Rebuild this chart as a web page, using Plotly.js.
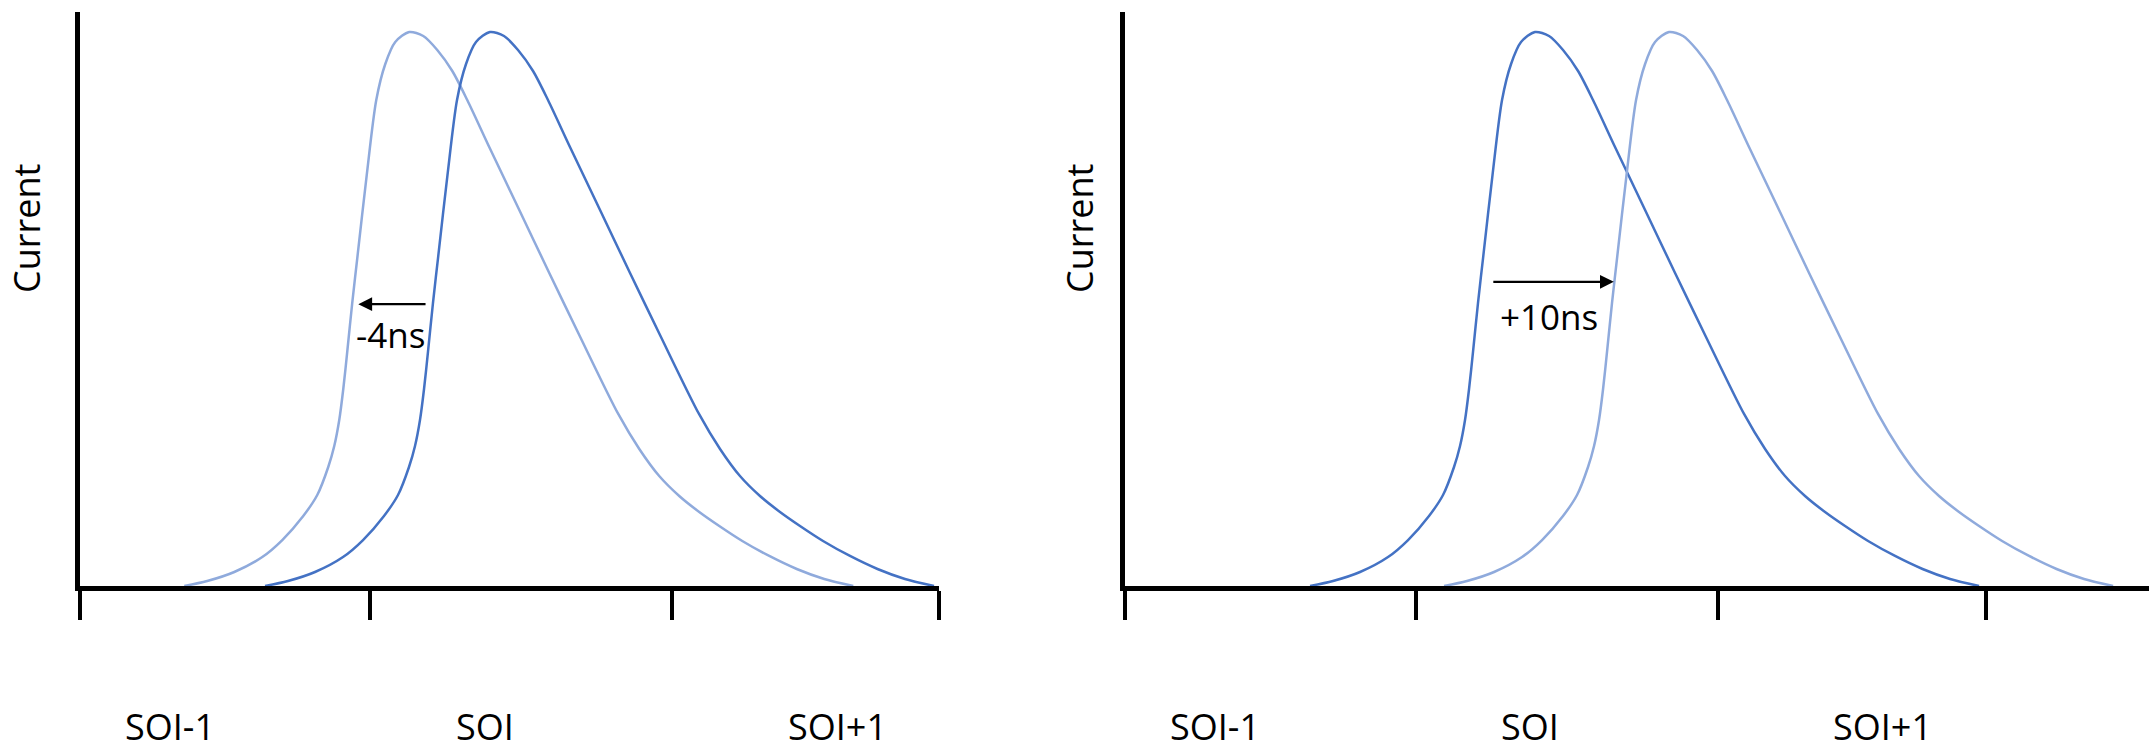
<!DOCTYPE html>
<html>
<head>
<meta charset="utf-8">
<script src="https://cdn.plot.ly/plotly-3.0.1.min.js"></script>
<style>html,body{margin:0;padding:0;background:#fff;}#chart{width:2149px;height:753px;}</style>
</head>
<body>
<div id="chart"></div>
<script>
// ---- data (arbitrary time units, current in % of plot height) ----
const nominalTime = [21.54, 24.21, 27.36, 30.62, 32.95, 35.39, 37.02, 38.30, 39.00, 39.58, 40.05, 40.51, 41.09, 41.68, 42.78, 43.89, 44.94, 46.10, 47.73, 49.36, 50.99, 52.74, 54.48, 57.04, 60.54, 64.03, 67.52, 72.06, 74.51, 76.83, 79.16, 81.49, 83.82, 86.50, 89.64, 92.84, 96.04, 99.42];
const pulseCurrent = [0, 0.87, 2.44, 5.05, 8.01, 12.20, 15.85, 20.73, 24.39, 28.92, 34.32, 40.77, 49.30, 57.14, 71.60, 84.67, 90.94, 94.77, 96.52, 95.82, 93.38, 89.72, 84.67, 76.48, 65.51, 54.53, 43.73, 29.97, 23.87, 19.16, 15.68, 12.89, 10.45, 7.84, 5.23, 2.96, 1.22, 0];
const earlyTime = [12.14, 14.81, 17.96, 21.22, 23.55, 25.99, 27.62, 28.90, 29.60, 30.18, 30.65, 31.11, 31.69, 32.28, 33.38, 34.49, 35.54, 36.70, 38.33, 39.96, 41.59, 43.34, 45.08, 47.64, 51.14, 54.63, 58.12, 62.66, 65.11, 67.43, 69.76, 72.09, 74.42, 77.10, 80.24, 83.44, 86.64, 90.02];
const lateTime = [37.14, 39.81, 42.96, 46.22, 48.55, 50.99, 52.62, 53.90, 54.60, 55.18, 55.65, 56.11, 56.69, 57.28, 58.38, 59.49, 60.54, 61.70, 63.33, 64.96, 66.59, 68.34, 70.08, 72.64, 76.14, 79.63, 83.12, 87.66, 90.11, 92.43, 94.76, 97.09, 99.42, 102.10, 105.24, 108.44, 111.64, 115.02];
const tickValsLeft = [0, 33.76, 68.9, 100];
const tickValsRight = [0, 33.9, 69.0, 100.2];
const bunchLabels = ["SOI-1", "SOI", "SOI+1"];
const bunchLabelPos = [10.5, 47.2, 88.2];
const shiftLabels = ["-4ns", "+10ns"];
const yTitle = "Current";

// ---- style ----
const DARK = "#4472C4";
const LIGHT = "#8FAADC";
const FONT = "Open Sans";
const W = 2149, H = 753;

function pulse(x, color, xa, ya) {
  return {x: x, y: pulseCurrent, xaxis: xa, yaxis: ya, mode: "lines",
    line: {color: color, width: 2.5, shape: "spline", smoothing: 0.8}, hoverinfo: "skip"};
}
const traces = [
  pulse(earlyTime, LIGHT, "x", "y"),
  pulse(nominalTime, DARK, "x", "y"),
  pulse(nominalTime, DARK, "x2", "y2"),
  pulse(lateTime, LIGHT, "x2", "y2")
];

function xAx(domain, range, ticks) {
  return {domain: domain, range: range, showline: true, linewidth: 5, linecolor: "#000",
    ticks: "outside", ticklen: 29, tickwidth: 4, tickcolor: "#000", tickmode: "array", tickvals: ticks,
    showticklabels: false, showgrid: false, zeroline: false, fixedrange: true};
}
function yAx(anchor) {
  return {domain: [(H - 586) / H, (H - 12) / H], range: [0, 100], anchor: anchor, showline: true, linewidth: 5,
    linecolor: "#000", ticks: "", showticklabels: false, showgrid: false, zeroline: false, fixedrange: true};
}

const annotations = [];
["x", "x2"].forEach(xr => {
  bunchLabels.forEach((t, i) => {
    annotations.push({xref: xr, yref: "paper", x: bunchLabelPos[i], y: 0, text: t, showarrow: false,
      font: {family: FONT, size: 36, color: "#000"}, xanchor: "center", yanchor: "bottom"});
  });
});
[27, 1080].forEach(px => {
  annotations.push({xref: "paper", yref: "paper", x: px / W, y: (H - 229) / H, text: yTitle, textangle: -90, showarrow: false,
    font: {family: FONT, size: 36, color: "#000"}, xanchor: "center", yanchor: "middle"});
});
// arrows
annotations.push({xref: "x", yref: "y", axref: "x", ayref: "y", x: 32.4, y: 49.1, ax: 40.4, ay: 49.1, text: "",
  showarrow: true, arrowhead: 2, arrowsize: 1.2, arrowwidth: 2.3, arrowcolor: "#000"});
annotations.push({xref: "x2", yref: "y2", axref: "x2", ayref: "y2", x: 56.9, y: 53.0, ax: 42.7, ay: 53.0, text: "",
  showarrow: true, arrowhead: 2, arrowsize: 1.2, arrowwidth: 2.3, arrowcolor: "#000"});
annotations.push({xref: "x", yref: "y", x: 36.1, y: 43.9, text: shiftLabels[0], showarrow: false,
  font: {family: FONT, size: 35, color: "#000"}, xanchor: "center", yanchor: "middle"});
annotations.push({xref: "x2", yref: "y2", x: 49.4, y: 47.0, text: shiftLabels[1], showarrow: false,
  font: {family: FONT, size: 35, color: "#000"}, xanchor: "center", yanchor: "middle"});

const layout = {
  width: W, height: H, margin: {l: 0, r: 0, t: 0, b: 0, pad: 0},
  paper_bgcolor: "#fff", plot_bgcolor: "#fff", showlegend: false,
  xaxis: Object.assign(xAx([80 / W, 939 / W], [0, 100], tickValsLeft), {anchor: "y"}),
  yaxis: yAx("x"),
  xaxis2: Object.assign(xAx([1125 / W, 1], [0, 119.2], tickValsRight), {anchor: "y2"}),
  yaxis2: yAx("x2"),
  annotations: annotations
};

Plotly.newPlot("chart", traces, layout, {displayModeBar: false, staticPlot: true});
</script>
</body>
</html>
